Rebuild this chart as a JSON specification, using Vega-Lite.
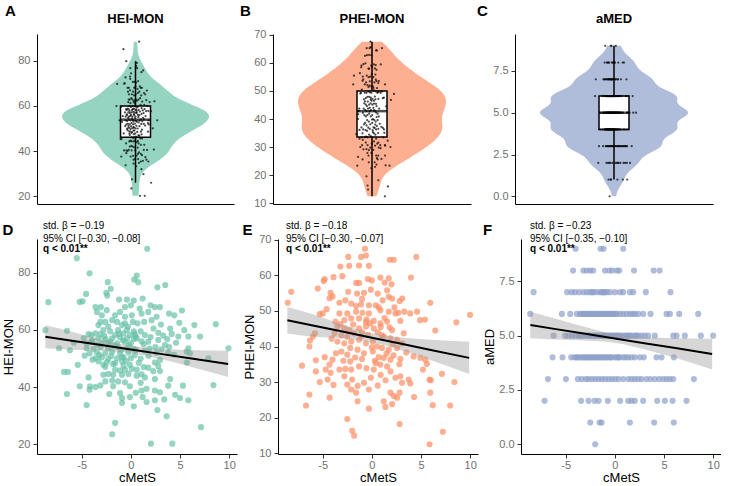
{
"$schema": "https://vega.github.io/schema/vega-lite/v6.json",
"background": "white",
"padding": {"left": 2, "top": 3, "right": 0, "bottom": 0},
"config": {
  "font": "Liberation Sans",
  "view": {"stroke": null},
  "axis": {"grid": false, "domainColor": "black", "domainWidth": 1, "tickColor": "#333333", "tickSize": 4, "tickWidth": 1, "labelColor": "#707070", "labelFontSize": 11, "labelPadding": 3, "labelOverlap": false, "titleFontWeight": "normal", "titleFontSize": 13, "titleColor": "black", "titlePadding": 2},
  "axisX": {"labelPadding": 1, "titlePadding": 1},
  "title": {"color": "black"}
},
"datasets": {
"hei": [
{"c":-5.5,"v":85.1},{"c":-4.2,"v":79.8},{"c":-2.35,"v":76.7},{"c":-2.05,"v":74.4},{"c":0.34,"v":77.6},{"c":-4.56,"v":72.6},{"c":-2.5,"v":73.0},{"c":-2.4,"v":72.0},{"c":-8.4,"v":69.7},{"c":-5.2,"v":69.8},{"c":-4.9,"v":70.0},{"c":-1.2,"v":70.6},{"c":-0.4,"v":70.6},{"c":0.3,"v":70.3},{"c":-3.6,"v":68.0},{"c":-3.05,"v":68.0},{"c":-0.6,"v":68.0},{"c":0.0,"v":68.6},{"c":-3.45,"v":66.3},{"c":-2.95,"v":65.1},{"c":-2.45,"v":66.9},{"c":-1.6,"v":65.1},{"c":-1.1,"v":66.3},{"c":-0.6,"v":64.6},{"c":0.1,"v":65.1},{"c":-3.1,"v":62.8},{"c":-2.6,"v":62.8},{"c":-1.9,"v":63.4},{"c":-1.4,"v":62.8},{"c":-0.6,"v":62.3},{"c":0.2,"v":62.8},{"c":-3.3,"v":61.7},{"c":-2.3,"v":61.2},{"c":-0.9,"v":61.7},{"c":-0.3,"v":61.2},{"c":-8.7,"v":59.9},{"c":-6.5,"v":59.7},{"c":-2.8,"v":59.9},{"c":-2.1,"v":59.5},{"c":-1.3,"v":59.9},{"c":-0.4,"v":60.0},{"c":0.3,"v":59.5},{"c":-4.3,"v":58.5},{"c":-4.0,"v":58.2},{"c":-3.6,"v":58.8},{"c":-3.1,"v":58.5},{"c":-1.6,"v":58.2},{"c":-0.75,"v":58.8},{"c":-0.1,"v":58.2},{"c":-4.8,"v":57.1},{"c":-3.3,"v":57.1},{"c":-2.6,"v":56.8},{"c":-1.9,"v":57.1},{"c":-1.1,"v":57.4},{"c":-0.4,"v":57.1},{"c":0.3,"v":56.8},{"c":-4.5,"v":55.3},{"c":-4.0,"v":55.9},{"c":-2.95,"v":55.3},{"c":-2.3,"v":55.6},{"c":-1.4,"v":55.3},{"c":-0.6,"v":55.9},{"c":0.0,"v":55.3},{"c":-7.3,"v":53.6},{"c":-6.2,"v":52.9},{"c":-4.5,"v":53.6},{"c":-3.8,"v":53.3},{"c":-3.1,"v":54.0},{"c":-2.3,"v":53.6},{"c":-1.3,"v":53.9},{"c":-0.4,"v":53.6},{"c":0.3,"v":53.3},{"c":-4.2,"v":51.8},{"c":-3.45,"v":52.1},{"c":-2.6,"v":51.8},{"c":-1.9,"v":52.4},{"c":-1.1,"v":51.8},{"c":-0.25,"v":52.1},{"c":-3.6,"v":50.1},{"c":-2.95,"v":50.4},{"c":-2.3,"v":49.8},{"c":-1.4,"v":50.1},{"c":-0.75,"v":50.4},{"c":0.0,"v":50.1},{"c":-3.3,"v":49.0},{"c":-2.45,"v":48.7},{"c":-0.9,"v":49.0},{"c":-5.4,"v":47.8},{"c":-2.8,"v":47.8},{"c":-1.8,"v":48.1},{"c":-0.75,"v":47.5},{"c":-0.1,"v":47.8},{"c":-1.6,"v":46.1},{"c":-1.1,"v":45.8},{"c":-0.6,"v":46.1},{"c":0.1,"v":46.4},{"c":0.6,"v":46.1},{"c":-6.8,"v":45.3},{"c":-6.4,"v":45.3},{"c":-2.8,"v":44.3},{"c":-2.3,"v":44.6},{"c":-1.8,"v":44.3},{"c":-0.9,"v":44.3},{"c":-0.25,"v":44.6},{"c":-4.3,"v":43.4},{"c":-2.6,"v":42.0},{"c":-1.9,"v":42.3},{"c":-1.3,"v":42.0},{"c":-0.6,"v":41.7},{"c":-5.2,"v":40.3},{"c":-4.15,"v":40.3},{"c":-3.6,"v":40.0},{"c":-3.1,"v":40.6},{"c":-1.8,"v":40.3},{"c":-0.1,"v":40.3},{"c":-4.2,"v":39.1},{"c":-6.5,"v":37.6},{"c":-2.2,"v":37.6},{"c":-1.1,"v":37.9},{"c":-0.9,"v":36.2},{"c":-0.1,"v":36.5},{"c":-4.5,"v":33.7},{"c":-0.9,"v":34.5},{"c":0.3,"v":33.3},{"c":-1.6,"v":27.5},{"c":-1.9,"v":23.5},
{"c":1.67,"v":88.4},{"c":2.7,"v":74.9},{"c":3.5,"v":75.7},{"c":0.75,"v":76.7},{"c":0.6,"v":79.0},{"c":2.0,"v":68.6},{"c":2.45,"v":68.0},{"c":2.96,"v":68.0},{"c":3.88,"v":65.7},{"c":4.42,"v":65.1},{"c":1.09,"v":65.7},{"c":1.77,"v":66.3},{"c":2.62,"v":64.6},{"c":0.68,"v":62.3},{"c":1.36,"v":62.8},{"c":2.11,"v":63.4},{"c":3.06,"v":61.9},{"c":4.93,"v":62.5},{"c":5.44,"v":59.9},{"c":6.46,"v":61.7},{"c":8.64,"v":62.0},{"c":4.15,"v":58.6},{"c":4.83,"v":57.7},{"c":5.85,"v":57.7},{"c":7.04,"v":57.7},{"c":1.43,"v":58.2},{"c":1.77,"v":55.9},{"c":2.79,"v":56.5},{"c":3.47,"v":54.7},{"c":9.93,"v":53.6},{"c":5.85,"v":53.6},{"c":5.68,"v":52.4},{"c":6.02,"v":51.8},{"c":7.89,"v":50.1},{"c":2.96,"v":49.5},{"c":3.8,"v":52.0},{"c":4.4,"v":51.3},{"c":5.7,"v":48.6},{"c":2.45,"v":48.6},{"c":2.79,"v":47.4},{"c":1.77,"v":46.8},{"c":2.28,"v":45.6},{"c":2.96,"v":45.6},{"c":1.09,"v":44.5},{"c":1.43,"v":43.4},{"c":2.45,"v":42.8},{"c":4.0,"v":42.8},{"c":3.8,"v":40.5},{"c":5.3,"v":40.5},{"c":8.4,"v":40.7},{"c":1.09,"v":38.8},{"c":1.6,"v":39.4},{"c":2.45,"v":38.8},{"c":2.96,"v":38.2},{"c":4.5,"v":37.3},{"c":5.0,"v":36.2},{"c":5.85,"v":35.4},{"c":1.6,"v":34.8},{"c":2.45,"v":35.4},{"c":2.7,"v":32.0},{"c":3.4,"v":35.7},{"c":3.64,"v":29.8},{"c":7.14,"v":26.0},{"c":2.04,"v":20.2},{"c":4.22,"v":20.2},{"c":0.4,"v":58.5},{"c":0.6,"v":57.0},{"c":1.0,"v":59.5},{"c":0.5,"v":53.0},{"c":1.0,"v":50.0},{"c":0.8,"v":48.5},{"c":1.3,"v":47.0},{"c":0.6,"v":44.0},{"c":1.0,"v":41.5},{"c":0.5,"v":38.0},{"c":1.2,"v":36.5},{"c":1.2,"v":71.0},{"c":0.9,"v":67.5},{"c":2.3,"v":60.5},{"c":2.8,"v":59.0},{"c":3.3,"v":58.0},{"c":2.0,"v":57.5},{"c":1.1,"v":56.0},{"c":2.5,"v":54.0},{"c":1.9,"v":53.5},{"c":3.1,"v":53.2},{"c":4.6,"v":55.5},{"c":3.7,"v":56.8},{"c":4.0,"v":60.5},{"c":5.2,"v":66.8},
{"c":-3.9,"v":56.3},{"c":-3.4,"v":54.8},{"c":-2.7,"v":57.8},{"c":-2.1,"v":56.0},{"c":-1.7,"v":54.5},{"c":-1.2,"v":58.6},{"c":-0.8,"v":56.4},{"c":-0.2,"v":54.6},{"c":0.5,"v":57.7},{"c":1.3,"v":55.0},{"c":1.8,"v":51.0},{"c":2.6,"v":52.0},{"c":-3.9,"v":49.6},{"c":-3.2,"v":51.2},{"c":-2.0,"v":50.9},{"c":-1.6,"v":48.4},{"c":-0.5,"v":49.2},{"c":0.4,"v":51.2},{"c":1.4,"v":52.7},{"c":-2.6,"v":47.1},{"c":-1.0,"v":53.0},{"c":-4.7,"v":51.0},{"c":-5.8,"v":55.5},{"c":3.9,"v":54.0},{"c":-0.9,"v":50.6}
],
"phei": [
{"c":-0.7,"v":67.5},{"c":-1.1,"v":65.2},{"c":-0.6,"v":65.6},{"c":-2.4,"v":65.2},{"c":-3.2,"v":62.5},{"c":-2.3,"v":62.7},{"c":-1.3,"v":62.8},{"c":-0.3,"v":62.7},{"c":-4.8,"v":59.0},{"c":-3.9,"v":59.5},{"c":-3.0,"v":59.8},{"c":-1.6,"v":57.9},{"c":-1.3,"v":57.9},{"c":-0.4,"v":59.0},{"c":0.0,"v":58.6},{"c":-8.2,"v":55.4},{"c":-4.2,"v":55.1},{"c":-4.0,"v":54.1},{"c":-4.3,"v":53.6},{"c":-2.4,"v":55.4},{"c":-1.5,"v":54.9},{"c":-0.8,"v":55.1},{"c":0.6,"v":54.9},{"c":-8.55,"v":52.3},{"c":-3.3,"v":52.3},{"c":-2.1,"v":52.1},{"c":-1.6,"v":51.4},{"c":-1.1,"v":51.9},{"c":-0.3,"v":51.6},{"c":0.4,"v":51.6},{"c":-5.0,"v":49.3},{"c":-5.3,"v":49.1},{"c":-3.3,"v":49.3},{"c":-2.5,"v":49.3},{"c":-1.6,"v":49.8},{"c":-0.95,"v":49.5},{"c":-0.3,"v":49.3},{"c":-2.8,"v":47.4},{"c":-2.1,"v":47.9},{"c":-1.3,"v":47.9},{"c":-0.55,"v":47.6},{"c":0.2,"v":47.2},{"c":-6.0,"v":42.8},{"c":-6.3,"v":41.7},{"c":-5.8,"v":43.7},{"c":-6.35,"v":40.0},{"c":-3.5,"v":45.6},{"c":-2.8,"v":45.1},{"c":-2.3,"v":44.6},{"c":-1.3,"v":45.1},{"c":-0.6,"v":45.6},{"c":0.2,"v":45.1},{"c":-3.8,"v":43.7},{"c":-3.1,"v":43.2},{"c":-2.5,"v":42.8},{"c":-1.8,"v":43.7},{"c":-1.1,"v":42.8},{"c":-0.4,"v":43.2},{"c":-3.5,"v":41.4},{"c":-2.8,"v":40.9},{"c":-2.1,"v":41.4},{"c":-1.3,"v":41.9},{"c":-0.6,"v":40.9},{"c":0.1,"v":41.4},{"c":-3.65,"v":38.1},{"c":-3.1,"v":38.6},{"c":-2.5,"v":37.7},{"c":-1.45,"v":39.1},{"c":-0.8,"v":38.1},{"c":0.1,"v":38.6},{"c":-7.1,"v":34.6},{"c":-4.0,"v":36.3},{"c":-4.3,"v":34.9},{"c":-3.3,"v":33.5},{"c":-2.7,"v":33.7},{"c":-2.1,"v":33.5},{"c":-1.3,"v":34.4},{"c":-0.55,"v":33.9},{"c":0.2,"v":33.5},{"c":-4.7,"v":33.5},{"c":-4.2,"v":32.6},{"c":-5.3,"v":30.0},{"c":-4.5,"v":30.7},{"c":-2.0,"v":30.7},{"c":-1.45,"v":28.9},{"c":-0.1,"v":31.2},{"c":-2.8,"v":31.6},{"c":-2.5,"v":29.3},{"c":-2.1,"v":27.9},{"c":-1.6,"v":27.0},{"c":-6.35,"v":26.5},{"c":-6.7,"v":23.4},{"c":-4.3,"v":25.6},{"c":-1.45,"v":24.6},{"c":-0.3,"v":22.5},{"c":-2.5,"v":19.6},{"c":-2.0,"v":16.3},{"c":-1.8,"v":14.9},{"c":-0.3,"v":27.9},{"c":-0.8,"v":29.8},
{"c":-4.6,"v":50.5},{"c":-3.7,"v":47.0},{"c":-1.9,"v":46.2},{"c":-0.2,"v":46.5},{"c":-1.0,"v":53.4},{"c":-2.7,"v":53.0},{"c":-0.1,"v":56.0},{"c":-5.5,"v":56.3},{"c":-5.7,"v":36.1},{"c":-4.8,"v":37.0},{"c":-3.9,"v":29.2},{"c":-5.7,"v":33.0},{"c":-1.0,"v":36.5},{"c":0.3,"v":36.0},{"c":-2.2,"v":35.8},{"c":-4.9,"v":58.4},
{"c":1.82,"v":64.4},{"c":2.23,"v":64.4},{"c":4.52,"v":65.2},{"c":3.98,"v":59.4},{"c":0.87,"v":59.4},{"c":1.72,"v":59.2},{"c":1.55,"v":55.8},{"c":1.72,"v":54.0},{"c":2.06,"v":53.5},{"c":2.83,"v":52.8},{"c":5.94,"v":52.3},{"c":0.87,"v":50.2},{"c":1.72,"v":49.8},{"c":2.4,"v":49.3},{"c":2.7,"v":49.5},{"c":3.9,"v":49.3},{"c":4.6,"v":49.8},{"c":4.9,"v":47.4},{"c":5.4,"v":47.6},{"c":6.45,"v":44.5},{"c":8.6,"v":46.8},{"c":9.99,"v":48.9},{"c":0.87,"v":46.5},{"c":1.55,"v":47.0},{"c":2.06,"v":44.6},{"c":2.9,"v":47.2},{"c":3.24,"v":43.7},{"c":1.21,"v":42.8},{"c":1.89,"v":42.3},{"c":2.56,"v":41.9},{"c":3.07,"v":40.9},{"c":0.54,"v":40.0},{"c":1.04,"v":39.6},{"c":1.72,"v":39.1},{"c":2.56,"v":39.6},{"c":4.25,"v":37.2},{"c":4.93,"v":36.8},{"c":5.43,"v":36.3},{"c":5.6,"v":35.1},{"c":5.2,"v":33.5},{"c":5.87,"v":30.7},{"c":6.0,"v":30.5},{"c":1.21,"v":36.8},{"c":1.89,"v":36.3},{"c":1.55,"v":34.4},{"c":0.87,"v":34.9},{"c":2.4,"v":31.2},{"c":2.9,"v":31.6},{"c":3.07,"v":29.8},{"c":3.75,"v":30.7},{"c":3.91,"v":29.6},{"c":7.13,"v":32.3},{"c":8.4,"v":30.0},{"c":5.94,"v":27.0},{"c":1.89,"v":27.0},{"c":2.23,"v":26.1},{"c":2.83,"v":27.0},{"c":2.56,"v":25.6},{"c":1.21,"v":24.6},{"c":2.06,"v":23.8},{"c":1.38,"v":23.0},{"c":4.3,"v":25.8},{"c":6.2,"v":23.5},{"c":7.97,"v":23.4},{"c":2.83,"v":18.2},{"c":7.22,"v":16.0},{"c":5.87,"v":12.5},{"c":0.6,"v":44.0},{"c":0.9,"v":45.5},{"c":1.3,"v":48.0},{"c":0.7,"v":51.0},{"c":1.1,"v":53.0},{"c":1.3,"v":58.0},{"c":2.0,"v":57.5},{"c":3.1,"v":53.5},{"c":2.3,"v":51.0},{"c":3.3,"v":49.8},{"c":1.5,"v":38.0},{"c":0.7,"v":37.0},{"c":2.2,"v":37.5},{"c":2.8,"v":35.0},{"c":0.9,"v":32.0},{"c":1.9,"v":33.0},{"c":0.6,"v":29.0},{"c":1.4,"v":30.5},{"c":2.9,"v":36.5},{"c":3.5,"v":38.3},
{"c":-3.2,"v":46.3},{"c":-2.2,"v":39.6},{"c":-1.0,"v":44.0},{"c":0.0,"v":39.8},{"c":1.0,"v":43.2},{"c":1.8,"v":45.4},{"c":-4.1,"v":42.2},{"c":-1.7,"v":36.9},{"c":0.4,"v":35.3},{"c":2.1,"v":40.7},{"c":-0.6,"v":46.9},{"c":-2.9,"v":36.0}
],
"amed": [
{"c":-4.0,"v":9},{"c":-1.45,"v":9},{"c":-1.15,"v":9},{"c":0.85,"v":9},
{"c":-4.25,"v":8},{"c":-3.2,"v":8},{"c":-2.85,"v":8},{"c":-2.5,"v":8},{"c":-2.2,"v":8},{"c":-1.0,"v":8},{"c":-0.55,"v":8},{"c":-0.25,"v":8},{"c":0.2,"v":8},{"c":0.45,"v":8},{"c":1.95,"v":8},{"c":3.95,"v":8},{"c":4.55,"v":8},
{"c":-8.27,"v":7},{"c":-4.85,"v":7},{"c":-4.4,"v":7},{"c":-4.05,"v":7},{"c":-3.63,"v":7},{"c":-3.19,"v":7},{"c":-2.85,"v":7},{"c":-2.51,"v":7},{"c":-2.3,"v":7},{"c":-2.17,"v":7},{"c":-1.83,"v":7},{"c":-1.49,"v":7},{"c":-1.3,"v":7},{"c":-1.15,"v":7},{"c":-1.0,"v":7},{"c":-0.81,"v":7},{"c":-0.47,"v":7},{"c":0.03,"v":7},{"c":0.54,"v":7},{"c":0.85,"v":7},{"c":1.53,"v":7},{"c":1.87,"v":7},{"c":3.15,"v":7},{"c":5.66,"v":7},
{"c":-8.61,"v":6},{"c":-5.39,"v":6},{"c":-4.54,"v":6},{"c":-3.87,"v":6},{"c":-3.53,"v":6},{"c":-3.19,"v":6},{"c":-3.0,"v":6},{"c":-2.85,"v":6},{"c":-2.51,"v":6},{"c":-2.3,"v":6},{"c":-2.17,"v":6},{"c":-1.83,"v":6},{"c":-1.6,"v":6},{"c":-1.49,"v":6},{"c":-1.15,"v":6},{"c":-1.0,"v":6},{"c":-0.81,"v":6},{"c":-0.47,"v":6},{"c":-0.3,"v":6},{"c":-0.14,"v":6},{"c":0.2,"v":6},{"c":0.54,"v":6},{"c":0.85,"v":6},{"c":1.19,"v":6},{"c":1.53,"v":6},{"c":1.8,"v":6},{"c":2.03,"v":6},{"c":2.37,"v":6},{"c":2.88,"v":6},{"c":3.63,"v":6},{"c":5.26,"v":6},{"c":5.6,"v":6},{"c":6.55,"v":6},{"c":8.48,"v":6},{"c":-3.35,"v":6},{"c":-2.65,"v":6},{"c":-1.95,"v":6},{"c":-1.3,"v":6},{"c":-0.65,"v":6},{"c":0.05,"v":6},
{"c":-6.23,"v":5},{"c":-5.05,"v":5},{"c":-4.72,"v":5},{"c":-4.37,"v":5},{"c":-4.04,"v":5},{"c":-3.7,"v":5},{"c":-3.36,"v":5},{"c":-2.85,"v":5},{"c":-2.51,"v":5},{"c":-2.3,"v":5},{"c":-2.17,"v":5},{"c":-1.83,"v":5},{"c":-1.6,"v":5},{"c":-1.49,"v":5},{"c":-1.15,"v":5},{"c":-0.95,"v":5},{"c":-0.81,"v":5},{"c":-0.47,"v":5},{"c":-0.3,"v":5},{"c":-0.14,"v":5},{"c":0.2,"v":5},{"c":0.35,"v":5},{"c":0.54,"v":5},{"c":0.75,"v":5},{"c":1.02,"v":5},{"c":1.36,"v":5},{"c":1.55,"v":5},{"c":1.7,"v":5},{"c":2.03,"v":5},{"c":2.2,"v":5},{"c":2.37,"v":5},{"c":2.71,"v":5},{"c":3.05,"v":5},{"c":3.39,"v":5},{"c":4.07,"v":5},{"c":5.94,"v":5},{"c":6.28,"v":5},{"c":7.12,"v":5},{"c":8.75,"v":5},{"c":10.0,"v":5},{"c":-3.55,"v":5},{"c":-3.1,"v":5},{"c":-2.65,"v":5},{"c":-1.95,"v":5},{"c":-1.3,"v":5},{"c":-0.6,"v":5},{"c":0.05,"v":5},{"c":1.2,"v":5},
{"c":-6.34,"v":4},{"c":-5.33,"v":4},{"c":-4.44,"v":4},{"c":-4.11,"v":4},{"c":-3.77,"v":4},{"c":-3.6,"v":4},{"c":-3.36,"v":4},{"c":-3.02,"v":4},{"c":-2.68,"v":4},{"c":-2.5,"v":4},{"c":-2.34,"v":4},{"c":-2.0,"v":4},{"c":-1.66,"v":4},{"c":-1.5,"v":4},{"c":-1.32,"v":4},{"c":-0.98,"v":4},{"c":-0.8,"v":4},{"c":-0.64,"v":4},{"c":-0.3,"v":4},{"c":0.03,"v":4},{"c":0.37,"v":4},{"c":0.51,"v":4},{"c":0.85,"v":4},{"c":1.1,"v":4},{"c":1.36,"v":4},{"c":1.7,"v":4},{"c":2.03,"v":4},{"c":2.54,"v":4},{"c":2.95,"v":4},{"c":4.24,"v":4},{"c":4.75,"v":4},{"c":6.0,"v":4},{"c":-3.9,"v":4},{"c":-3.2,"v":4},{"c":-2.85,"v":4},{"c":-2.2,"v":4},{"c":-1.85,"v":4},{"c":-1.15,"v":4},{"c":-0.45,"v":4},{"c":0.2,"v":4},
{"c":-6.81,"v":3},{"c":-4.98,"v":3},{"c":-3.77,"v":3},{"c":-3.36,"v":3},{"c":-2.95,"v":3},{"c":-2.68,"v":3},{"c":-2.34,"v":3},{"c":-2.0,"v":3},{"c":-1.66,"v":3},{"c":-1.32,"v":3},{"c":-0.98,"v":3},{"c":-0.64,"v":3},{"c":-0.3,"v":3},{"c":0.03,"v":3},{"c":0.37,"v":3},{"c":0.85,"v":3},{"c":1.36,"v":3},{"c":1.7,"v":3},{"c":2.03,"v":3},{"c":2.37,"v":3},{"c":2.71,"v":3},{"c":3.22,"v":3},{"c":3.63,"v":3},{"c":4.07,"v":3},{"c":4.51,"v":3},{"c":4.92,"v":3},{"c":5.26,"v":3},{"c":5.6,"v":3},{"c":5.94,"v":3},{"c":8.04,"v":3},
{"c":-7.15,"v":2},{"c":-3.43,"v":2},{"c":-2.68,"v":2},{"c":-2.07,"v":2},{"c":-1.66,"v":2},{"c":-0.71,"v":2},{"c":0.54,"v":2},{"c":1.36,"v":2},{"c":1.7,"v":2},{"c":2.03,"v":2},{"c":2.88,"v":2},{"c":4.31,"v":2},{"c":5.09,"v":2},{"c":5.87,"v":2},{"c":7.29,"v":2},
{"c":-2.5,"v":1},{"c":-1.55,"v":1},{"c":-1.35,"v":1},{"c":1.53,"v":1},{"c":4.0,"v":1},{"c":6.0,"v":1},
{"c":-2.0,"v":0}
],
"fhei": [{"c":-8.7,"fit":57.6,"lo":53.6,"hi":61.6},{"c":-6,"fit":56.22,"lo":53.05,"hi":59.39},{"c":-3,"fit":54.69,"lo":52.7,"hi":56.7},{"c":0,"fit":53.15,"lo":51.84,"hi":54.46},{"c":3,"fit":51.62,"lo":49.8,"hi":53.4},{"c":6,"fit":50.09,"lo":47.2,"hi":53.0},{"c":9.9,"fit":48.1,"lo":43.5,"hi":52.7}],
"fphei": [{"c":-8.6,"fit":47.4,"lo":43.65,"hi":51.15},{"c":-6,"fit":45.93,"lo":42.79,"hi":49.07},{"c":-3,"fit":44.21,"lo":42.23,"hi":46.19},{"c":0,"fit":42.48,"lo":41.17,"hi":43.79},{"c":3,"fit":40.76,"lo":38.96,"hi":42.56},{"c":6,"fit":39.03,"lo":36.13,"hi":41.93},{"c":9.9,"fit":36.8,"lo":32.25,"hi":41.35}],
"famed": [{"c":-8.6,"fit":5.49,"lo":4.88,"hi":6.10},{"c":-6,"fit":5.30,"lo":4.82,"hi":5.78},{"c":-3,"fit":5.09,"lo":4.78,"hi":5.40},{"c":0,"fit":4.87,"lo":4.67,"hi":5.07},{"c":3,"fit":4.65,"lo":4.37,"hi":4.93},{"c":6,"fit":4.44,"lo":3.99,"hi":4.89},{"c":9.9,"fit":4.15,"lo":3.44,"hi":4.86}]
},
"spacing": 12,
"vconcat": [
{
 "spacing": 5,
 "hconcat": [
  {
   "width": 197, "height": 170,
   "title": {"text": "HEI-MON", "fontSize": 13, "fontWeight": "bold", "offset": -23},
   "resolve": {"scale": {"x": "independent"}},
   "layer": [
    {"data": {"name": "hei"}, "transform": [{"density": "v", "bandwidth": 3.1}],
     "mark": {"type": "area", "orient": "horizontal", "color": "#66C2A5", "opacity": 0.7},
     "encoding": {
      "y": {"field": "value", "type": "quantitative", "scale": {"domain": [16.6, 91.8], "nice": false, "zero": false},
            "axis": {"title": "A", "values": [20, 40, 60, 80], "tickCount": 10, "labelOverlap": false, "titleAngle": 0, "titleFontSize": 15, "titleFontWeight": "bold", "titleX": -27, "titleY": -24, "titleAlign": "center", "titleBaseline": "middle"}},
      "x": {"field": "density", "type": "quantitative", "stack": "center", "impute": null, "scale": {"padding": 25, "nice": false},
            "axis": {"title": null, "labels": false, "ticks": false, "grid": false}}
     }},
    {"data": {"name": "hei"},
     "mark": {"type": "boxplot", "extent": 1.5, "size": 30, "outliers": false, "box": {"fill": "white", "stroke": "black", "strokeWidth": 1.5}, "median": {"color": "black", "thickness": 2.5}, "rule": {"color": "black", "strokeWidth": 1.5}},
     "encoding": {"y": {"field": "v", "type": "quantitative", "title": "A"}}},
    {"data": {"name": "hei"},
     "mark": {"type": "circle", "size": 5, "color": "black", "opacity": 0.7},
     "encoding": {"x": {"field": "c", "type": "quantitative", "scale": {"domain": [-45, 45]}, "axis": null},
                  "y": {"field": "v", "type": "quantitative", "title": "A"}}}
   ]
  },
  {
   "width": 198, "height": 170,
   "title": {"text": "PHEI-MON", "fontSize": 13, "fontWeight": "bold", "offset": -23},
   "resolve": {"scale": {"x": "independent"}},
   "layer": [
    {"data": {"name": "phei"}, "transform": [{"density": "v", "bandwidth": 3.2}],
     "mark": {"type": "area", "orient": "horizontal", "color": "#FC8D62", "opacity": 0.7},
     "encoding": {
      "y": {"field": "value", "type": "quantitative", "scale": {"domain": [9.75, 70.25], "nice": false, "zero": false},
            "axis": {"title": "B", "values": [10, 20, 30, 40, 50, 60, 70], "tickCount": 10, "labelOverlap": false, "titleAngle": 0, "titleFontSize": 15, "titleFontWeight": "bold", "titleX": -28, "titleY": -24, "titleAlign": "center", "titleBaseline": "middle"}},
      "x": {"field": "density", "type": "quantitative", "stack": "center", "impute": null, "scale": {"padding": 25, "nice": false},
            "axis": {"title": null, "labels": false, "ticks": false, "grid": false}}
     }},
    {"data": {"name": "phei"},
     "mark": {"type": "boxplot", "extent": 1.5, "size": 30, "outliers": false, "box": {"fill": "white", "stroke": "black", "strokeWidth": 1.5}, "median": {"color": "black", "thickness": 2.5}, "rule": {"color": "black", "strokeWidth": 1.5}},
     "encoding": {"y": {"field": "v", "type": "quantitative", "title": "B"}}},
    {"data": {"name": "phei"},
     "mark": {"type": "circle", "size": 5, "color": "black", "opacity": 0.7},
     "encoding": {"x": {"field": "c", "type": "quantitative", "scale": {"domain": [-45, 45]}, "axis": null},
                  "y": {"field": "v", "type": "quantitative", "title": "B"}}}
   ]
  },
  {
   "width": 198, "height": 170,
   "title": {"text": "aMED", "fontSize": 13, "fontWeight": "bold", "offset": -23},
   "resolve": {"scale": {"x": "independent"}},
   "layer": [
    {"data": {"name": "amed"}, "transform": [{"density": "v", "bandwidth": 0.45}],
     "mark": {"type": "area", "orient": "horizontal", "color": "#8DA0CB", "opacity": 0.7},
     "encoding": {
      "y": {"field": "value", "type": "quantitative", "scale": {"domain": [-0.46, 9.71], "nice": false, "zero": false},
            "axis": {"title": "C", "values": [0, 2.5, 5, 7.5], "tickCount": 10, "format": ".1f", "labelOverlap": false, "titleAngle": 0, "titleFontSize": 15, "titleFontWeight": "bold", "titleX": -33, "titleY": -24, "titleAlign": "center", "titleBaseline": "middle"}},
      "x": {"field": "density", "type": "quantitative", "stack": "center", "impute": null, "scale": {"padding": 25, "nice": false},
            "axis": {"title": null, "labels": false, "ticks": false, "grid": false}}
     }},
    {"data": {"name": "amed"},
     "mark": {"type": "boxplot", "extent": 1.5, "size": 30, "outliers": false, "box": {"fill": "white", "stroke": "black", "strokeWidth": 1.5}, "median": {"color": "black", "thickness": 2.5}, "rule": {"color": "black", "strokeWidth": 1.5}},
     "encoding": {"y": {"field": "v", "type": "quantitative", "title": "C"}}},
    {"data": {"name": "amed"},
     "mark": {"type": "circle", "size": 5, "color": "black", "opacity": 0.7},
     "encoding": {"x": {"field": "c", "type": "quantitative", "scale": {"domain": [-45, 45]}, "axis": null},
                  "y": {"field": "v", "type": "quantitative", "title": "C"}}}
   ]
  }
 ]
},
{
 "spacing": 4,
 "hconcat": [
  {
   "width": 200, "height": 215,
   "title": {"text": ["std. β = −0.19", "95% CI [−0.30, −0.08]"], "subtitle": "q < 0.01**", "anchor": "start", "frame": "group", "fontSize": 10, "fontWeight": "normal", "lineHeight": 12.5, "subtitleFontSize": 10, "subtitleFontWeight": "bold", "subtitleColor": "black", "subtitleLineHeight": 12.5, "subtitlePadding": 0, "offset": -31.5, "dx": 6},
   "resolve": {"axis": {"x": "independent"}},
   "layer": [
    {"data": {"name": "hei"},
     "mark": {"type": "circle", "size": 38, "color": "#66C2A5", "opacity": 0.7},
     "encoding": {
      "x": {"field": "c", "type": "quantitative", "scale": {"domain": [-9.55, 10.8], "nice": false, "zero": false}, "axis": {"title": "cMetS", "values": [-5, 0, 5, 10], "tickCount": 10, "labelExpr": "'' + datum.value"}},
      "y": {"field": "v", "type": "quantitative", "scale": {"domain": [16.6, 91.8], "nice": false, "zero": false}, "axis": {"title": "HEI-MON", "values": [20, 40, 60, 80], "tickCount": 10, "labelOverlap": false}}
     }},
    {"data": {"name": "fhei"},
     "mark": {"type": "area", "color": "#999999", "opacity": 0.4, "interpolate": "monotone"},
     "encoding": {"x": {"field": "c", "type": "quantitative", "axis": null}, "y": {"field": "lo", "type": "quantitative", "title": "HEI-MON"}, "y2": {"field": "hi"}}},
    {"data": {"name": "fhei"},
     "mark": {"type": "line", "color": "black", "strokeWidth": 2},
     "encoding": {"x": {"field": "c", "type": "quantitative", "axis": {"orient": "top", "title": "D", "labels": false, "ticks": false, "domain": false, "titleAngle": 0, "titleFontSize": 15, "titleFontWeight": "bold", "titleX": -29.5, "titleY": -10, "titleAlign": "center", "titleBaseline": "middle"}},
                  "y": {"field": "fit", "type": "quantitative", "title": "HEI-MON"}}}
   ]
  },
  {
   "width": 200, "height": 215,
   "title": {"text": ["std. β = −0.18", "95% CI [−0.30, −0.07]"], "subtitle": "q < 0.01**", "anchor": "start", "frame": "group", "fontSize": 10, "fontWeight": "normal", "lineHeight": 12.5, "subtitleFontSize": 10, "subtitleFontWeight": "bold", "subtitleColor": "black", "subtitleLineHeight": 12.5, "subtitlePadding": 0, "offset": -31.5, "dx": 8},
   "resolve": {"axis": {"x": "independent"}},
   "layer": [
    {"data": {"name": "phei"},
     "mark": {"type": "circle", "size": 38, "color": "#FC8D62", "opacity": 0.7},
     "encoding": {
      "x": {"field": "c", "type": "quantitative", "scale": {"domain": [-9.55, 10.8], "nice": false, "zero": false}, "axis": {"title": "cMetS", "values": [-5, 0, 5, 10], "tickCount": 10, "labelExpr": "'' + datum.value"}},
      "y": {"field": "v", "type": "quantitative", "scale": {"domain": [9.75, 70.25], "nice": false, "zero": false}, "axis": {"title": "PHEI-MON", "values": [10, 20, 30, 40, 50, 60, 70], "tickCount": 10, "labelOverlap": false}}
     }},
    {"data": {"name": "fphei"},
     "mark": {"type": "area", "color": "#999999", "opacity": 0.4, "interpolate": "monotone"},
     "encoding": {"x": {"field": "c", "type": "quantitative", "axis": null}, "y": {"field": "lo", "type": "quantitative", "title": "PHEI-MON"}, "y2": {"field": "hi"}}},
    {"data": {"name": "fphei"},
     "mark": {"type": "line", "color": "black", "strokeWidth": 2},
     "encoding": {"x": {"field": "c", "type": "quantitative", "axis": {"orient": "top", "title": "E", "labels": false, "ticks": false, "domain": false, "titleAngle": 0, "titleFontSize": 15, "titleFontWeight": "bold", "titleX": -31, "titleY": -10, "titleAlign": "center", "titleBaseline": "middle"}},
                  "y": {"field": "fit", "type": "quantitative", "title": "PHEI-MON"}}}
   ]
  },
  {
   "width": 200, "height": 215,
   "title": {"text": ["std. β = −0.23", "95% CI [−0.35, −0.10]"], "subtitle": "q < 0.01**", "anchor": "start", "frame": "group", "fontSize": 10, "fontWeight": "normal", "lineHeight": 12.5, "subtitleFontSize": 10, "subtitleFontWeight": "bold", "subtitleColor": "black", "subtitleLineHeight": 12.5, "subtitlePadding": 0, "offset": -31.5, "dx": 9},
   "resolve": {"axis": {"x": "independent"}},
   "layer": [
    {"data": {"name": "amed"},
     "mark": {"type": "circle", "size": 38, "color": "#8DA0CB", "opacity": 0.7},
     "encoding": {
      "x": {"field": "c", "type": "quantitative", "scale": {"domain": [-9.55, 10.8], "nice": false, "zero": false}, "axis": {"title": "cMetS", "values": [-5, 0, 5, 10], "tickCount": 10, "labelExpr": "'' + datum.value"}},
      "y": {"field": "v", "type": "quantitative", "scale": {"domain": [-0.45, 9.45], "nice": false, "zero": false}, "axis": {"title": "aMED", "values": [0, 2.5, 5, 7.5], "tickCount": 10, "format": ".1f", "labelOverlap": false}}
     }},
    {"data": {"name": "famed"},
     "mark": {"type": "area", "color": "#999999", "opacity": 0.4, "interpolate": "monotone"},
     "encoding": {"x": {"field": "c", "type": "quantitative", "axis": null}, "y": {"field": "lo", "type": "quantitative", "title": "aMED"}, "y2": {"field": "hi"}}},
    {"data": {"name": "famed"},
     "mark": {"type": "line", "color": "black", "strokeWidth": 2},
     "encoding": {"x": {"field": "c", "type": "quantitative", "axis": {"orient": "top", "title": "F", "labels": false, "ticks": false, "domain": false, "titleAngle": 0, "titleFontSize": 15, "titleFontWeight": "bold", "titleX": -34, "titleY": -10, "titleAlign": "center", "titleBaseline": "middle"}},
                  "y": {"field": "fit", "type": "quantitative", "title": "aMED"}}}
   ]
  }
 ]
}
]
}
